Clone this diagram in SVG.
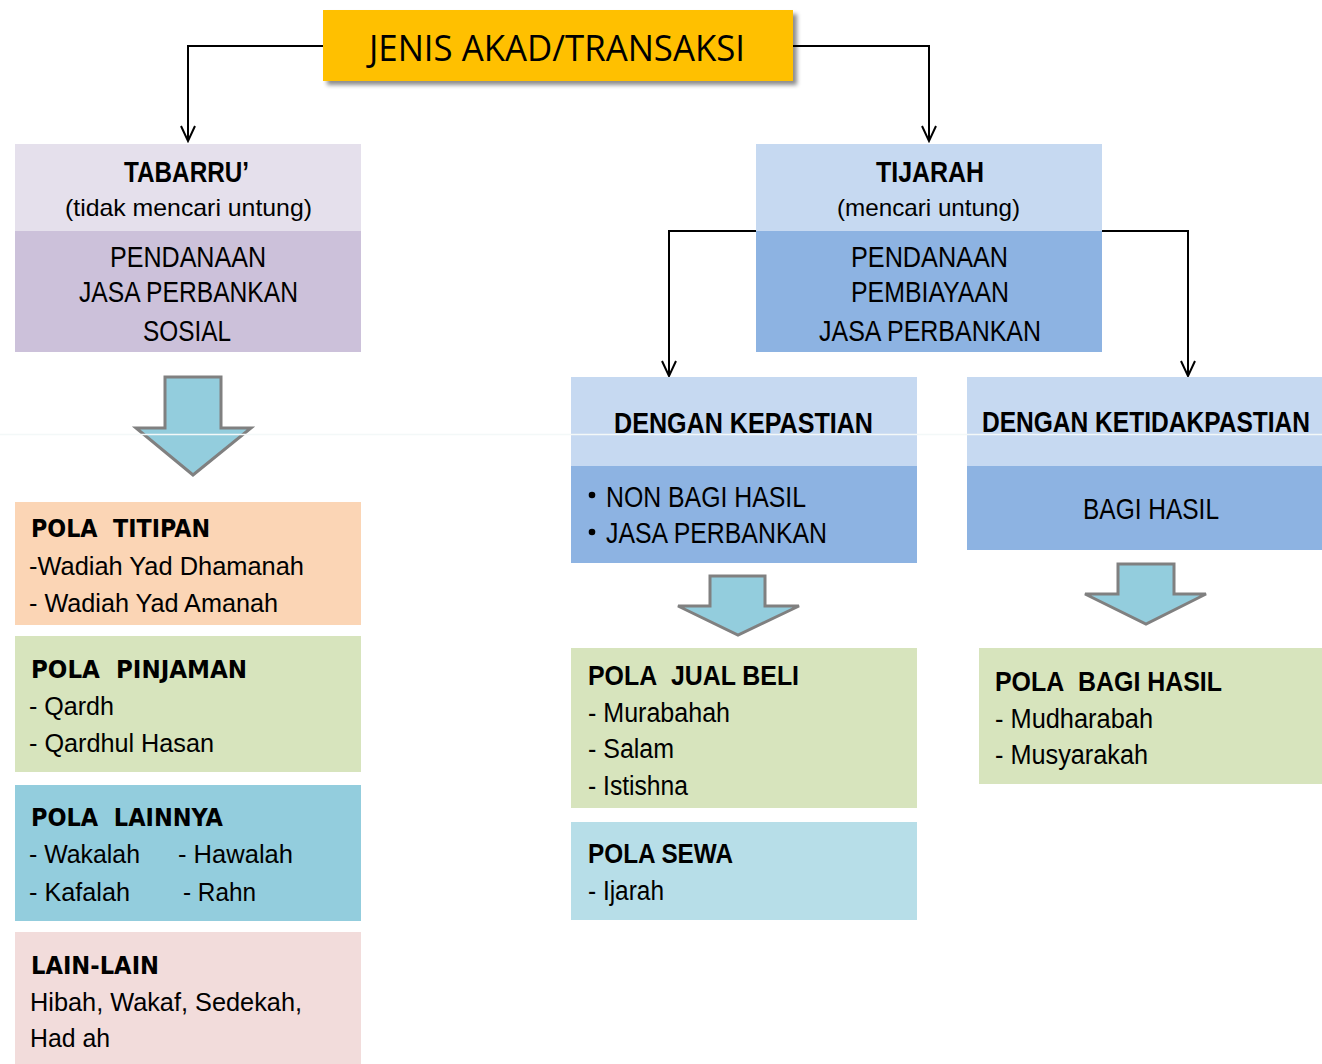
<svg xmlns="http://www.w3.org/2000/svg" width="1322" height="1064" viewBox="0 0 1322 1064">
<style>
text{fill:#000;}
.t{font-family:"Open Sans","Liberation Sans",sans-serif;font-size:36px;}
.hb{font-family:"Liberation Sans",Arial,sans-serif;font-weight:bold;font-size:30px;}
.hr{font-family:"Liberation Sans",Arial,sans-serif;font-size:30px;}
.sub{font-family:"Liberation Sans",Arial,sans-serif;font-size:24px;}
.lb{font-family:"DejaVu Sans",Verdana,sans-serif;font-weight:bold;font-size:25px;}
.lr{font-family:"Liberation Sans",Arial,sans-serif;font-size:25px;}
.rb{font-family:"Liberation Sans",Arial,sans-serif;font-weight:bold;font-size:28px;}
.rr{font-family:"Liberation Sans",Arial,sans-serif;font-size:27px;}
.conn{fill:none;stroke:#000;stroke-width:2;}
.blk{fill:#93CDDD;stroke:#808080;stroke-width:3;stroke-linejoin:miter;}
</style>
<defs>
<marker id="v" markerUnits="userSpaceOnUse" viewBox="-16 -9 18 18" refX="0" refY="0" markerWidth="18" markerHeight="18" orient="auto">
<path d="M-15,-7 L0,0 L-15,7" fill="none" stroke="#000" stroke-width="2"/>
</marker>
<filter id="sh" x="-5%" y="-20%" width="115%" height="150%">
<feDropShadow dx="4" dy="4" stdDeviation="2" flood-color="#000" flood-opacity="0.45"/>
</filter>
</defs>
<rect width="1322" height="1064" fill="#fff"/>

<g id="connectors">
<path class="conn" d="M323,46 H188 V141" marker-end="url(#v)"/>
<path class="conn" d="M793,46 H929 V141" marker-end="url(#v)"/>
<path class="conn" d="M756,231 H669 V376" marker-end="url(#v)"/>
<path class="conn" d="M1101,231 H1188 V376" marker-end="url(#v)"/>
<polygon class="blk" points="165,377 221,377 221,428 251,428 193,475 136,428 165,428"/>
<polygon class="blk" points="710,576 765,576 765,606 799,606 738,635 678,606 710,606"/>
<polygon class="blk" points="1118,564 1174,564 1174,594 1206,594 1146,624 1085,594 1118,594"/>
</g>

<g id="title">
<rect x="323" y="10" width="470" height="71" fill="#FFC000" filter="url(#sh)"/>
<text class="t" x="369" y="61" textLength="376" lengthAdjust="spacingAndGlyphs">JENIS AKAD/TRANSAKSI</text>
</g>

<g id="tabarru">
<rect x="15" y="144" width="346" height="87" fill="#E5E0EC"/>
<rect x="15" y="231" width="346" height="121" fill="#CCC1DA"/>
<text class="hb" x="124" y="182" textLength="125" lengthAdjust="spacingAndGlyphs">TABARRU’</text>
<text class="sub" x="65" y="216" textLength="247" lengthAdjust="spacingAndGlyphs">(tidak mencari untung)</text>
<text class="hr" x="110" y="267" textLength="156" lengthAdjust="spacingAndGlyphs">PENDANAAN</text>
<text class="hr" x="79" y="302" textLength="219" lengthAdjust="spacingAndGlyphs">JASA PERBANKAN</text>
<text class="hr" x="143" y="341" textLength="88" lengthAdjust="spacingAndGlyphs">SOSIAL</text>
</g>

<g id="tijarah">
<rect x="756" y="144" width="346" height="87" fill="#C6D9F1"/>
<rect x="756" y="231" width="346" height="121" fill="#8DB3E2"/>
<text class="hb" x="876" y="182" textLength="108" lengthAdjust="spacingAndGlyphs">TIJARAH</text>
<text class="sub" x="837" y="216" textLength="183" lengthAdjust="spacingAndGlyphs">(mencari untung)</text>
<text class="hr" x="851" y="267" textLength="157" lengthAdjust="spacingAndGlyphs">PENDANAAN</text>
<text class="hr" x="851" y="302" textLength="158" lengthAdjust="spacingAndGlyphs">PEMBIAYAAN</text>
<text class="hr" x="819" y="341" textLength="222" lengthAdjust="spacingAndGlyphs">JASA PERBANKAN</text>
</g>

<g id="dengan-kepastian">
<rect x="571" y="377" width="346" height="89" fill="#C6D9F1"/>
<rect x="571" y="466" width="346" height="97" fill="#8DB3E2"/>
<text class="hb" style="font-size:29px" x="614" y="433" textLength="259" lengthAdjust="spacingAndGlyphs">DENGAN KEPASTIAN</text>
<circle cx="592" cy="495" r="3.3"/>
<circle cx="592" cy="532" r="3.3"/>
<text class="hr" x="606" y="507" textLength="200" lengthAdjust="spacingAndGlyphs">NON BAGI HASIL</text>
<text class="hr" x="606" y="543" textLength="221" lengthAdjust="spacingAndGlyphs">JASA PERBANKAN</text>
</g>

<g id="dengan-ketidakpastian">
<rect x="967" y="377" width="355" height="89" fill="#C6D9F1"/>
<rect x="967" y="466" width="355" height="84" fill="#8DB3E2"/>
<text class="hb" style="font-size:29px" transform="translate(982,432) scale(0.82,1)" x="0" y="0" textLength="400" lengthAdjust="spacingAndGlyphs">DENGAN KETIDAKPASTIAN</text>
<text class="hr" x="1083" y="519" textLength="136" lengthAdjust="spacingAndGlyphs">BAGI HASIL</text>
</g>

<line x1="0" y1="434.5" x2="1322" y2="434.5" stroke="#F3F8F8" stroke-width="1.5"/>

<g id="pola-titipan">
<rect x="15" y="502" width="346" height="123" fill="#FBD5B5"/>
<text class="lb" x="31" y="537" textLength="179" lengthAdjust="spacingAndGlyphs">POLA&#160; TITIPAN</text>
<text class="lr" x="29" y="575" textLength="275" lengthAdjust="spacingAndGlyphs">-Wadiah Yad Dhamanah</text>
<text class="lr" x="29" y="612" textLength="249" lengthAdjust="spacingAndGlyphs">- Wadiah Yad Amanah</text>
</g>

<g id="pola-pinjaman">
<rect x="15" y="636" width="346" height="136" fill="#D7E4BD"/>
<text class="lb" x="31" y="678" textLength="216" lengthAdjust="spacingAndGlyphs">POLA&#160; PINJAMAN</text>
<text class="lr" x="29" y="715" textLength="85" lengthAdjust="spacingAndGlyphs">- Qardh</text>
<text class="lr" x="29" y="752" textLength="185" lengthAdjust="spacingAndGlyphs">- Qardhul Hasan</text>
</g>

<g id="pola-lainnya">
<rect x="15" y="785" width="346" height="136" fill="#93CDDD"/>
<text class="lb" x="31" y="826" textLength="192" lengthAdjust="spacingAndGlyphs">POLA&#160; LAINNYA</text>
<text class="lr" x="29" y="863" textLength="111" lengthAdjust="spacingAndGlyphs">- Wakalah</text>
<text class="lr" x="178" y="863" textLength="115" lengthAdjust="spacingAndGlyphs">- Hawalah</text>
<text class="lr" x="29" y="901" textLength="101" lengthAdjust="spacingAndGlyphs">- Kafalah</text>
<text class="lr" x="183" y="901" textLength="73" lengthAdjust="spacingAndGlyphs">- Rahn</text>
</g>

<g id="lain-lain">
<rect x="15" y="932" width="346" height="132" fill="#F2DCDB"/>
<text class="lb" x="31" y="974" textLength="128" lengthAdjust="spacingAndGlyphs">LAIN-LAIN</text>
<text class="lr" x="30" y="1011" textLength="272" lengthAdjust="spacingAndGlyphs">Hibah, Wakaf, Sedekah,</text>
<text class="lr" x="30" y="1047" textLength="80" lengthAdjust="spacingAndGlyphs">Had ah</text>
</g>

<g id="pola-jual-beli">
<rect x="571" y="648" width="346" height="160" fill="#D7E4BD"/>
<text class="rb" x="588" y="685" textLength="211" lengthAdjust="spacingAndGlyphs">POLA&#160; JUAL BELI</text>
<text class="rr" x="588" y="722" textLength="142" lengthAdjust="spacingAndGlyphs">- Murabahah</text>
<text class="rr" x="588" y="758" textLength="86" lengthAdjust="spacingAndGlyphs">- Salam</text>
<text class="rr" x="588" y="795" textLength="100" lengthAdjust="spacingAndGlyphs">- Istishna</text>
</g>

<g id="pola-sewa">
<rect x="571" y="822" width="346" height="98" fill="#B7DEE8"/>
<text class="rb" x="588" y="863" textLength="145" lengthAdjust="spacingAndGlyphs">POLA SEWA</text>
<text class="rr" x="588" y="900" textLength="76" lengthAdjust="spacingAndGlyphs">- Ijarah</text>
</g>

<g id="pola-bagi-hasil">
<rect x="979" y="648" width="343" height="136" fill="#D7E4BD"/>
<text class="rb" x="995" y="691" textLength="227" lengthAdjust="spacingAndGlyphs">POLA&#160; BAGI HASIL</text>
<text class="rr" x="995" y="728" textLength="158" lengthAdjust="spacingAndGlyphs">- Mudharabah</text>
<text class="rr" x="995" y="764" textLength="153" lengthAdjust="spacingAndGlyphs">- Musyarakah</text>
</g>
</svg>
